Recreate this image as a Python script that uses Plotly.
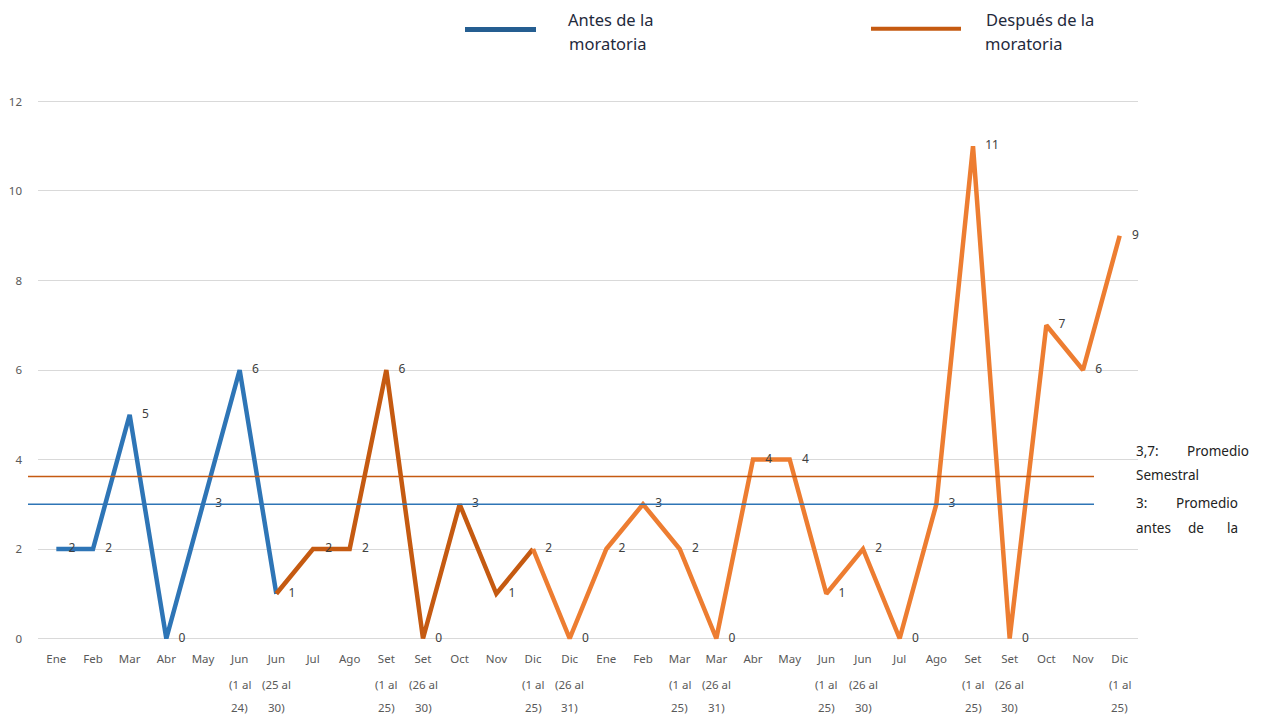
import plotly.graph_objects as go

# ---------------- data ----------------
categories = [
    "Ene", "Feb", "Mar", "Abr", "May", "Jun<br>(1 al<br>24)", "Jun<br>(25 al<br>30)",
    "Jul", "Ago", "Set<br>(1 al<br>25)", "Set<br>(26 al<br>30)", "Oct", "Nov",
    "Dic<br>(1 al<br>25)", "Dic<br>(26 al<br>31)",
    "Ene", "Feb", "Mar<br>(1 al<br>25)", "Mar<br>(26 al<br>31)", "Abr", "May",
    "Jun<br>(1 al<br>25)", "Jun<br>(26 al<br>30)", "Jul", "Ago",
    "Set<br>(1 al<br>25)", "Set<br>(26 al<br>30)", "Oct", "Nov", "Dic<br>(1 al<br>25)",
]
values = [2, 2, 5, 0, 3, 6, 1, 2, 2, 6, 0, 3, 1, 2, 0,
          2, 3, 2, 0, 4, 4, 1, 2, 0, 3, 11, 0, 7, 6, 9]

# segment boundaries (indices into the series)
seg_before = (0, 6)      # antes de la moratoria
seg_after1 = (6, 13)     # después (primer tramo)
seg_after2 = (13, 29)    # después (segundo tramo)

avg_semestral = 3.62
avg_before = 3.0

y_ticks = [0, 2, 4, 6, 8, 10, 12]

legend_before = ["Antes de la", "moratoria"]
legend_after = ["Después de la", "moratoria"]

# ---------------- styling ----------------
OFF = 8                      # page body margin
W, H = 1262 - OFF, 723 - OFF
ML, MR, MT, MB = 30, 124, 88.5, 79.5
PW = W - ML - MR
PH = H - MT - MB

C_BLUE = "#2E75B6"
C_DORANGE = "#C55A11"
C_LORANGE = "#ED7D31"
GRID = "#D9D9D9"
TXT = "#595959"
FONT = "Noto Sans"


def px_x(px):
    return (px - OFF - ML) / PW


def px_y(py):
    return (H - MB - (py - OFF)) / PH


idx = list(range(len(categories)))
first_lines = [c.split("<br>")[0] for c in categories]

fig = go.Figure()

for (a, b), col in [(seg_before, C_BLUE), (seg_after1, C_DORANGE), (seg_after2, C_LORANGE)]:
    fig.add_trace(go.Scatter(
        x=idx[a:b + 1], y=values[a:b + 1], mode="lines",
        line=dict(color=col, width=4.5), hoverinfo="skip", showlegend=False,
    ))

# data labels
fig.add_trace(go.Scatter(
    x=idx, y=values, mode="markers+text",
    marker=dict(size=18, color="rgba(0,0,0,0)"),
    text=[str(v) for v in values], textposition="middle right",
    textfont=dict(family=FONT, size=12, color="#404040"),
    hoverinfo="skip", showlegend=False, cliponaxis=False,
))

shapes = []
# average lines
shapes.append(dict(type="line", xref="paper", yref="y", x0=px_x(28), x1=px_x(1094),
                   y0=avg_semestral, y1=avg_semestral, line=dict(color=C_DORANGE, width=1.6)))
shapes.append(dict(type="line", xref="paper", yref="y", x0=px_x(28), x1=px_x(1094),
                   y0=avg_before, y1=avg_before, line=dict(color=C_BLUE, width=1.6)))
# legend keys
shapes.append(dict(type="line", xref="paper", yref="paper", x0=px_x(465), x1=px_x(536),
                   y0=px_y(29), y1=px_y(29), line=dict(color="#255E91", width=5)))
shapes.append(dict(type="line", xref="paper", yref="paper", x0=px_x(871), x1=px_x(961),
                   y0=px_y(28), y1=px_y(28), line=dict(color=C_DORANGE, width=4)))

annotations = []


def ann(text, px, py, anchor="left", size=13.5, color="#1F2A3C"):
    annotations.append(dict(
        text=text, xref="paper", yref="paper", x=px_x(px), y=px_y(py),
        xanchor=anchor, yanchor="middle", showarrow=False,
        font=dict(family=FONT, size=size, color=color),
    ))


# legend text
ann(legend_before[0], 566, 19, size=16.5)
ann(legend_before[1], 567, 43, size=16.5)
ann(legend_after[0], 984, 19, size=16.5)
ann(legend_after[1], 983, 43, size=16.5)

# right side notes (justified look)
ann("3,7:", 1134, 451, color="#222222")
ann("Promedio", 1251, 451, anchor="right", color="#222222")
ann("Semestral", 1134, 475, color="#222222")
ann("3:", 1134, 503, color="#222222")
ann("Promedio", 1240, 503, anchor="right", color="#222222")
ann("antes", 1134, 528, color="#222222")
ann("de", 1196, 528, anchor="center", color="#222222")
ann("la", 1240, 528, anchor="right", color="#222222")

# extra lines of the x category labels
for i, c in enumerate(categories):
    parts = c.split("<br>")
    for k, part in enumerate(parts[1:], start=1):
        annotations.append(dict(
            text=part, xref="x", yref="paper", x=i, y=0,
            xanchor="center", yanchor="middle", yshift=-(19 + 22.5 * k),
            showarrow=False, font=dict(family=FONT, size=11.5, color=TXT),
        ))

fig.update_layout(
    width=W, height=H,
    margin=dict(l=ML, r=MR, t=MT, b=MB, autoexpand=False),
    paper_bgcolor="white", plot_bgcolor="white",
    showlegend=False,
    shapes=shapes, annotations=annotations,
    font=dict(family=FONT, color=TXT),
    xaxis=dict(
        range=[-0.5, len(categories) - 0.5], tickmode="array", tickvals=idx,
        ticktext=first_lines, showgrid=False, zeroline=False, showline=False,
        ticks="", tickfont=dict(family=FONT, size=11.5, color=TXT), ticklabelstandoff=7,
        fixedrange=True,
    ),
    yaxis=dict(
        range=[-0.1, 12.1], tickmode="array", tickvals=y_ticks,
        showgrid=True, gridcolor=GRID, gridwidth=1, zeroline=False, showline=False,
        ticks="", tickfont=dict(family=FONT, size=11.5, color=TXT), ticklabelstandoff=15,
        fixedrange=True,
    ),
)

fig.write_html("out.html")
